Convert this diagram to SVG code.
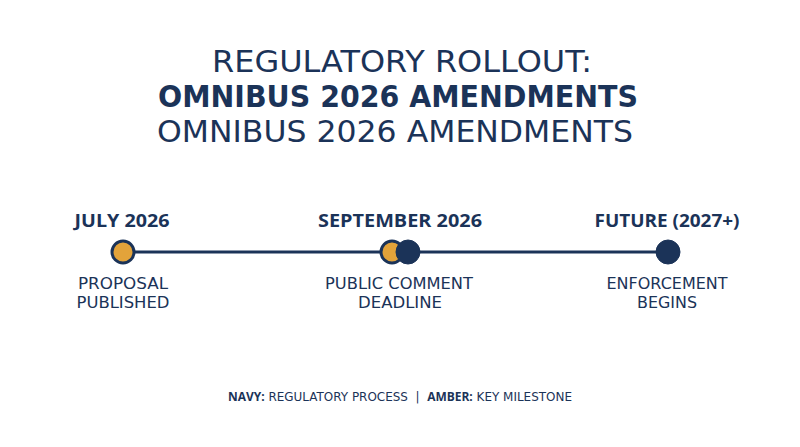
<svg xmlns="http://www.w3.org/2000/svg" width="800" height="447" viewBox="0 0 800 447">
<style>
.t{font-family:"DejaVu Sans","Liberation Sans",sans-serif;fill:#1b3358;text-anchor:middle}
.title{font-size:29.5px}
.tb{font-weight:bold}
.b{font-family:"Open Sans","DejaVu Sans",sans-serif;font-weight:700}
.lab{font-size:17px}
.sub{font-size:15px}
.leg{font-size:12px}
.line{stroke:#1b3358;stroke-width:3}
.amber{fill:#e3a33a;stroke:#1b3358;stroke-width:3}
.navy{fill:#1b3358;stroke:#1b3358;stroke-width:1}
</style>
<rect width="800" height="447" fill="#ffffff"/>
<g id="title">
<text class="t title" x="402" y="72" textLength="380" lengthAdjust="spacingAndGlyphs">REGULATORY ROLLOUT:</text>
<text class="t title tb" x="398" y="107" textLength="480" lengthAdjust="spacingAndGlyphs">OMNIBUS 2026 AMENDMENTS</text>
<text class="t title" x="395" y="142" textLength="476" lengthAdjust="spacingAndGlyphs">OMNIBUS 2026 AMENDMENTS</text>
</g>
<g id="connectors">
<line class="line" x1="123" y1="252" x2="668" y2="252"/>
</g>
<g id="node-july">
<text class="t lab b" x="122" y="227" textLength="95" lengthAdjust="spacingAndGlyphs">JULY 2026</text>
<circle class="amber" cx="123" cy="252" r="11"/>
<text class="t sub" x="123" y="289" textLength="90" lengthAdjust="spacingAndGlyphs">PROPOSAL</text>
<text class="t sub" x="123" y="308" textLength="93" lengthAdjust="spacingAndGlyphs">PUBLISHED</text>
</g>
<g id="node-september">
<text class="t lab b" x="400" y="227" textLength="164" lengthAdjust="spacingAndGlyphs">SEPTEMBER 2026</text>
<circle class="amber" cx="392" cy="252" r="11"/>
<circle class="navy" cx="408" cy="252" r="12"/>
<text class="t sub" x="399" y="289" textLength="148" lengthAdjust="spacingAndGlyphs">PUBLIC COMMENT</text>
<text class="t sub" x="400" y="308" textLength="84" lengthAdjust="spacingAndGlyphs">DEADLINE</text>
</g>
<g id="node-future">
<text class="t lab b" x="667" y="227" textLength="145" lengthAdjust="spacingAndGlyphs">FUTURE (2027+)</text>
<circle class="navy" cx="668" cy="252" r="12"/>
<text class="t sub" x="667" y="289" textLength="121" lengthAdjust="spacingAndGlyphs">ENFORCEMENT</text>
<text class="t sub" x="667" y="308" textLength="60" lengthAdjust="spacingAndGlyphs">BEGINS</text>
</g>
<g id="legend">
<text class="t leg" x="400" y="401" xml:space="preserve" textLength="344" lengthAdjust="spacingAndGlyphs"><tspan class="b">NAVY:</tspan> REGULATORY PROCESS  |  <tspan class="b">AMBER:</tspan> KEY MILESTONE</text>
</g>
</svg>
